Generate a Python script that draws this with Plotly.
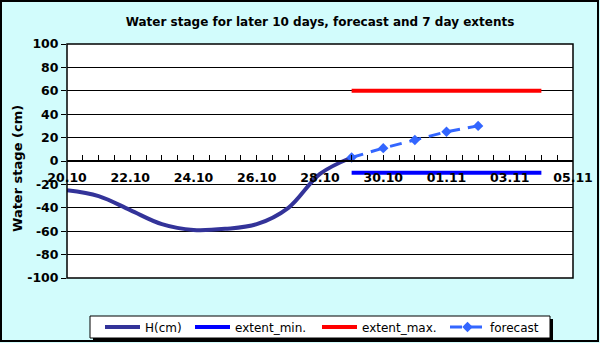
import plotly.graph_objects as go

# observed stage, daily
h_dates = ["2024-10-20", "2024-10-21", "2024-10-22", "2024-10-23", "2024-10-24",
           "2024-10-25", "2024-10-26", "2024-10-27", "2024-10-28", "2024-10-29"]
h_cm = [-25, -30, -42, -54, -59, -58, -54, -40, -11, 3]

# forecast
fc_dates = ["2024-10-29", "2024-10-30", "2024-10-31", "2024-11-01", "2024-11-02"]
fc_cm = [3, 11, 18, 25, 30]

# 7 day extents
ext_dates = ["2024-10-29", "2024-11-04"]
ext_min = [-10, -10]
ext_max = [60, 60]

W, H = 600, 343
L, R, T, B = 67, 27, 44, 65
pw, ph = W - L - R, H - T - B


def px(x):
    return (x - L) / pw


def py(y):
    return 1 - (y - T) / ph


FONT = "DejaVu Sans"

fig = go.Figure()
fig.add_trace(go.Scatter(x=h_dates, y=h_cm, mode="lines", name="H(cm)", legend="legend",
                         line=dict(color="#333399", width=4, shape="spline", smoothing=1.0)))
fig.add_trace(go.Scatter(x=ext_dates, y=ext_min, mode="lines", name="extent_min.", legend="legend2",
                         line=dict(color="#0000FF", width=4)))
fig.add_trace(go.Scatter(x=ext_dates, y=ext_max, mode="lines", name="extent_max.", legend="legend3",
                         line=dict(color="#FF0000", width=4)))
fig.add_trace(go.Scatter(x=fc_dates, y=fc_cm, mode="lines+markers", name="forecast", legend="legend4",
                         line=dict(color="#3366FF", width=3, dash="12px,8px"),
                         marker=dict(symbol="diamond", size=8, color="#3366FF")))

tickfont = dict(family=FONT, size=12.5, color="black")
legfont = dict(family=FONT, size=12, color="black")


def leg(xpix):
    return dict(x=px(xpix), y=py(327), xanchor="left", yanchor="middle",
                bgcolor="rgba(0,0,0,0)", borderwidth=0, font=legfont, itemwidth=35)


fig.update_layout(
    width=W, height=H,
    margin=dict(l=L, r=R, t=T, b=B, autoexpand=False),
    paper_bgcolor="#D2FCFC",
    plot_bgcolor="white",
    title=dict(text="<b>Water stage for later 10 days, forecast and 7 day extents</b>",
               x=320 / W, xanchor="center", y=1 - 22 / H, yanchor="middle",
               font=dict(family=FONT, size=12, color="black")),
    xaxis=dict(type="date", range=["2024-10-20", "2024-11-05"],
               anchor="free", position=0.5, side="bottom", automargin=False,
               tickformat="<b>%d.%m</b>", dtick=2 * 86400000, tick0="2024-10-20",
               ticks="inside", ticklen=5, tickcolor="black", ticklabelstandoff=5,
               minor=dict(dtick=43200000, ticks="inside", ticklen=5, tickcolor="black"),
               showgrid=False, showline=True, linecolor="black", linewidth=1.5,
               zeroline=False, tickfont=tickfont),
    yaxis=dict(range=[-100, 100], automargin=False,
               tickvals=list(range(-100, 101, 20)),
               ticktext=[f"<b>{v}</b>" for v in range(-100, 101, 20)],
               showgrid=True, gridcolor="black", gridwidth=1,
               zeroline=False, ticks="outside", ticklen=5, tickcolor="black",
               ticklabelstandoff=0, tickfont=tickfont),
    showlegend=True,
    legend=leg(100), legend2=leg(190), legend3=leg(317), legend4=leg(445),
    annotations=[
        dict(text="<b>Water stage (cm)</b>", xref="paper", yref="paper",
             x=px(17), y=py(169), xanchor="center", yanchor="middle", textangle=-90,
             showarrow=False, font=dict(family=FONT, size=13, color="black")),
    ],
    shapes=[
        # plot area frame
        dict(type="rect", xref="paper", yref="paper", x0=0, x1=1, y0=0, y1=1,
             line=dict(color="black", width=1.5), layer="above"),
        # outer chart border
        dict(type="rect", xref="paper", yref="paper",
             x0=px(1), x1=px(598), y0=py(341), y1=py(1),
             line=dict(color="black", width=2)),
        # legend shadow + box
        dict(type="rect", xref="paper", yref="paper",
             x0=px(93), x1=px(553), y0=py(341), y1=py(319),
             fillcolor="black", line=dict(width=0)),
        dict(type="rect", xref="paper", yref="paper",
             x0=px(90), x1=px(550), y0=py(338), y1=py(316),
             fillcolor="white", line=dict(color="black", width=1)),
    ],
)

fig.write_html("out.html", config={"displayModeBar": False},
               post_script="document.body.style.margin='0';")
